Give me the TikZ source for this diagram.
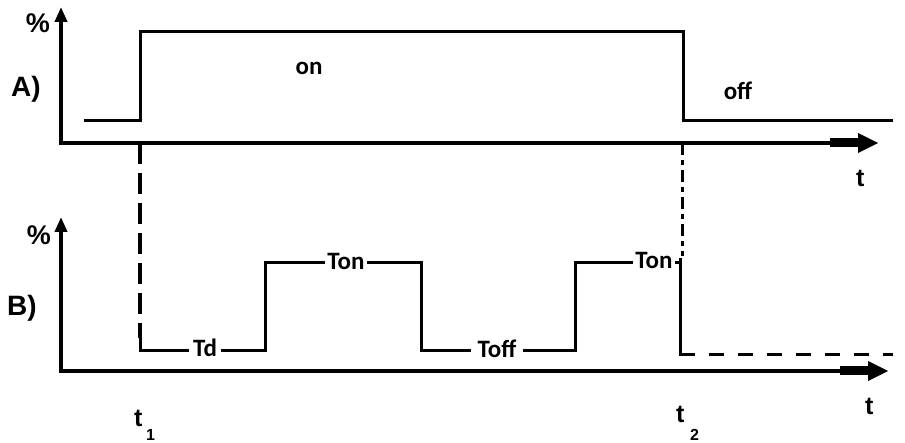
\documentclass[tikz,border=0pt]{standalone}
\usepackage{fontspec}
\setmainfont{Liberation Sans}
\newfontfamily\calfont{Carlito}
\usetikzlibrary{arrows.meta}
\begin{document}
\begin{tikzpicture}[x=1pt,y=-1pt,
  axis/.style={line width=4pt},
  yax/.style={line width=4pt,-{Triangle[length=15pt,width=12pt]}},
  sig/.style={line width=3pt,line join=miter},
  lab/.style={font={\calfont\bfseries\fontsize{25}{30}\selectfont},inner ysep=0pt,anchor=base},
  cut/.style={lab,fill=white},
  big/.style={font={\bfseries\fontsize{28}{32}\selectfont},inner sep=0pt,anchor=base},
  tt/.style={font={\bfseries\fontsize{25}{30}\selectfont},inner sep=0pt,anchor=base west},
  sub/.style={font={\bfseries\fontsize{16}{18}\selectfont},inner sep=0pt,anchor=base west},
  dsh/.style={line width=3.5pt,dash pattern=on 21pt off 9pt},
  dshdot/.style={line width=3pt,dash pattern=on 12pt off 5pt on 5pt off 5pt},
  dshh/.style={line width=3pt,dash pattern=on 15pt off 14pt}]
\useasboundingbox (0,0) rectangle (905,443);
% ---------- panel A axes
\coordinate (Ao) at (61,143);
\coordinate (Ay) at (61,7);
\coordinate (Ax) at (858,143);
\draw[yax] (61,145) -- (Ay);
\draw[axis] (59,143) -- (Ax);
\fill (830,138.5) rectangle (858,147.5);
\fill (858,133) -- (878,143) -- (858,153) -- cycle;
% ---------- panel B axes
\coordinate (Bo) at (61,371);
\coordinate (By) at (61,217);
\coordinate (Bx) at (868,371);
\draw[yax] (61,373) -- (By);
\draw[axis] (59,371) -- (Bx);
\fill (840,366.5) rectangle (868,375.5);
\fill (868,361) -- (888,371) -- (868,381) -- cycle;
% ---------- signal A
\coordinate (a0) at (84,121);
\coordinate (a1) at (140,121);
\coordinate (a2) at (140,32);
\coordinate (a3) at (683,32);
\coordinate (a4) at (683,121);
\coordinate (a5) at (893,121);
\draw[sig] (a0) -- (a1) -- (a2) -- (a3) -- (a4) -- (a5);
% ---------- guide lines
\coordinate (g1) at (140,143);
\coordinate (g1b) at (140,338);
\draw[dsh] (g1) -- (g1b);
\coordinate (g2) at (682,143);
\coordinate (g2b) at (682,256);
\draw[dshdot] (g2) -- (g2b);
% ---------- signal B
\coordinate (b0) at (140,336);
\coordinate (b1) at (140,351);
\coordinate (b2) at (265,351);
\coordinate (b3) at (265,263);
\coordinate (b4) at (421,263);
\coordinate (b5) at (421,351);
\coordinate (b6) at (575,351);
\coordinate (b7) at (575,263);
\coordinate (b8) at (681,263);
\coordinate (c0) at (680,258);
\coordinate (c1) at (680,355);
\coordinate (c2) at (893,355);
\draw[sig] (b0) -- (b1) -- (b2) -- (b3) -- (b4) -- (b5) -- (b6) -- (b7) -- (b8);
\draw[sig] (c0) -- (c1) -- ([xshift=2pt]c1);
\draw[dshh] (c1) -- (c2);
% ---------- labels
\node[lab] (on) at (309,75) {on};
\node[lab] (off) at (738,100) {off};
\node[cut,inner xsep=4pt] (td) at (205,357) {Td};
\node[cut,inner xsep=2pt] (ton1) at (346,270) {Ton};
\node[cut,inner xsep=6.5pt] (toff) at (497,358) {Toff};
\node[cut,inner xsep=2pt] (ton2) at (654,269) {Ton};
\node[big] (pa) at (38,33) {\fontsize{27}{30}\selectfont\%};
\node[big] (pb) at (39,245) {\fontsize{27}{30}\selectfont\%};
\node[big] (la) at (26,97) {A)};
\node[big] (lb) at (22,316) {B)};
\node[tt] (ta) at (856,187) {t};
\node[tt] (tb) at (865,415) {t};
\node[tt] (t1) at (134,427) {t};
\node[sub] (s1) at (146,440) {1};
\node[tt] (t2) at (676,423) {t};
\node[sub] (s2) at (690,440) {2};
\end{tikzpicture}
\end{document}
